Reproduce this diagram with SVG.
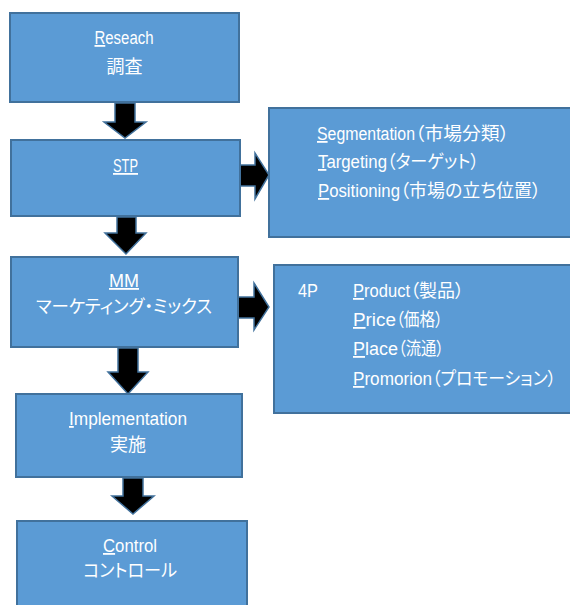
<svg xmlns="http://www.w3.org/2000/svg" width="570" height="605" viewBox="0 0 570 605">
<style>
.box{fill:#5B9BD5;stroke:#41719C;stroke-width:2}
.arr{fill:#000;stroke:#41719C;stroke-width:1.5;stroke-linejoin:miter}
text{font-family:"Liberation Sans","Noto Sans CJK JP",sans-serif;font-size:18px;fill:#fff}
.jp{font-family:"Noto Sans CJK JP",sans-serif;font-feature-settings:"palt" 1}
.c{text-anchor:middle}
.u{text-decoration:underline}
</style>
<rect width="570" height="605" fill="#fff"/>
<g id="connectors">
<polygon class="arr" points="115,103 135,103 135,122 146,122 125,138 104,122 115,122"/>
<polygon class="arr" points="117,217 136,217 136,233 146,233 126,254 105,233 117,233"/>
<polygon class="arr" points="118,348 138,348 138,372 148,372 128,394 108,372 118,372"/>
<polygon class="arr" points="123,478 143,478 143,496 154,496 133,514 112,496 123,496"/>
<polygon class="arr" points="240,165 255,165 255,153 269,175 255,199 255,186 240,186"/>
<polygon class="arr" points="238,297 254,297 254,283 269,307 254,330 254,318 238,318"/>
</g>
<g id="research">
<rect class="box" x="10" y="13" width="229" height="89"/>
<text class="c" x="124" y="44" textLength="59" lengthAdjust="spacingAndGlyphs"><tspan class="u">R</tspan>eseach</text>
<text class="c jp" x="124.5" y="73">調査</text>
</g>
<g id="stp">
<rect class="box" x="11" y="140" width="229" height="76"/>
<text class="c u" x="125.5" y="172" textLength="25" lengthAdjust="spacingAndGlyphs">STP</text>
</g>
<g id="stp-detail">
<rect class="box" x="269" y="108" width="310" height="129"/>
<text x="317" y="140" textLength="98" lengthAdjust="spacingAndGlyphs"><tspan class="u">S</tspan>egmentation</text>
<text class="jp" x="415" y="140" textLength="94" lengthAdjust="spacingAndGlyphs">（市場分類）</text>
<text x="318" y="168" textLength="69" lengthAdjust="spacingAndGlyphs"><tspan class="u">T</tspan>argeting</text>
<text class="jp" x="387" y="168" textLength="92" lengthAdjust="spacingAndGlyphs">（ターゲット）</text>
<text x="318" y="197" textLength="82" lengthAdjust="spacingAndGlyphs"><tspan class="u">P</tspan>ositioning</text>
<text class="jp" x="400" y="197" textLength="141" lengthAdjust="spacingAndGlyphs">（市場の立ち位置）</text>
</g>
<g id="mm">
<rect class="box" x="11" y="257" width="227" height="90"/>
<text class="c u" x="124" y="287" textLength="30" lengthAdjust="spacingAndGlyphs">MM</text>
<text class="c jp" x="124" y="313" textLength="176" lengthAdjust="spacingAndGlyphs">マーケティング・ミックス</text>
</g>
<g id="fourp">
<rect class="box" x="274" y="265" width="305" height="148"/>
<text x="298" y="297" textLength="20" lengthAdjust="spacingAndGlyphs">4P</text>
<text x="353" y="297" textLength="57" lengthAdjust="spacingAndGlyphs"><tspan class="u">P</tspan>roduct</text>
<text class="jp" x="410" y="297" textLength="54" lengthAdjust="spacingAndGlyphs">（製品）</text>
<text x="353" y="326" textLength="43" lengthAdjust="spacingAndGlyphs"><tspan class="u">P</tspan>rice</text>
<text class="jp" x="396" y="326" textLength="47" lengthAdjust="spacingAndGlyphs">（価格）</text>
<text x="353" y="355" textLength="45" lengthAdjust="spacingAndGlyphs"><tspan class="u">P</tspan>lace</text>
<text class="jp" x="398" y="355" textLength="46" lengthAdjust="spacingAndGlyphs">（流通）</text>
<text x="353" y="385" textLength="79" lengthAdjust="spacingAndGlyphs"><tspan class="u">P</tspan>romorion</text>
<text class="jp" x="432" y="385" font-size="17" textLength="124" lengthAdjust="spacingAndGlyphs">（プロモーション）</text>
</g>
<g id="implementation">
<rect class="box" x="16" y="394" width="226" height="83"/>
<text class="c" x="128" y="425" textLength="118" lengthAdjust="spacingAndGlyphs"><tspan class="u">I</tspan>mplementation</text>
<text class="c jp" x="128" y="451">実施</text>
</g>
<g id="control">
<rect class="box" x="17" y="521" width="230" height="95"/>
<text class="c" x="130" y="552" textLength="54" lengthAdjust="spacingAndGlyphs"><tspan class="u">C</tspan>ontrol</text>
<text class="c jp" x="130" y="577" textLength="94" lengthAdjust="spacingAndGlyphs">コントロール</text>
</g>
</svg>
